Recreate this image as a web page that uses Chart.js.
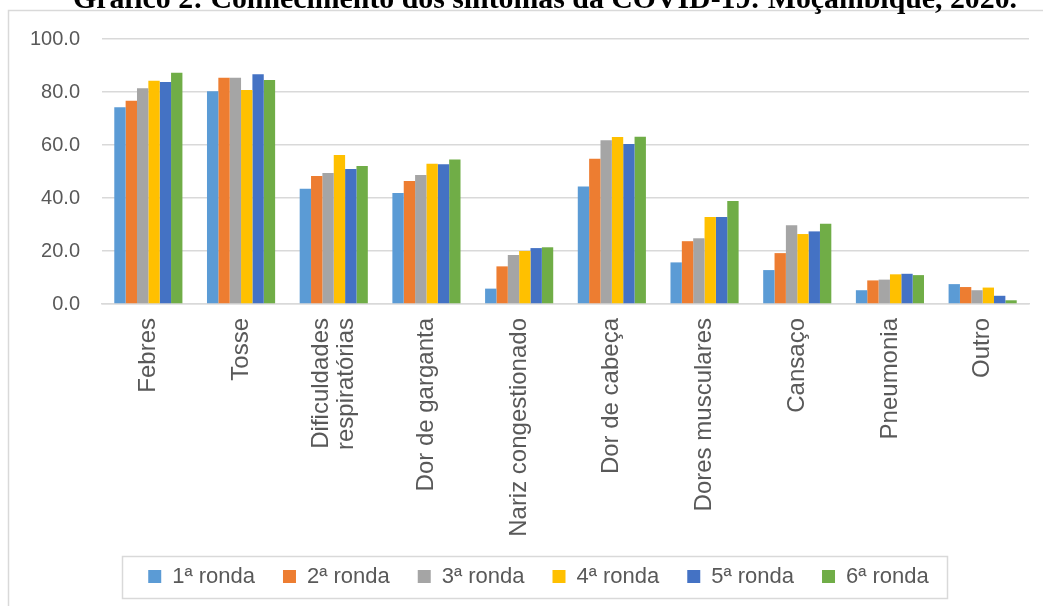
<!DOCTYPE html>
<html>
<head>
<meta charset="utf-8">
<script src="https://cdn.jsdelivr.net/npm/chart.js@4.4.0/dist/chart.umd.min.js"></script>
<style>
  body { margin: 0; background: #fff; }
  #wrap { position: absolute; left: 0; top: 0; width: 1043px; height: 606px; }
</style>
</head>
<body>
<div id="wrap"><canvas id="grafico"></canvas></div>
<script>
// categorias e valores (%)
const sintomas = [
    "Febres", "Tosse", ["Dificuldades", "respiratórias"], "Dor de garganta",
    "Nariz congestionado", "Dor de cabeça", "Dores musculares", "Cansaço",
    "Pneumonia", "Outro"
];
const ronda1 = [74.2, 80.3, 43.5, 41.9, 5.8, 44.3, 15.7, 12.8, 5.2, 7.5];
const ronda2 = [76.7, 85.4, 48.3, 46.4, 14.2, 54.8, 23.7, 19.2, 8.9, 6.4];
const ronda3 = [81.4, 85.4, 49.4, 48.7, 18.5, 61.8, 24.8, 29.7, 9.2, 5.2];
const ronda4 = [84.2, 80.8, 56.2, 52.9, 20.0, 63.0, 32.8, 26.4, 11.2, 6.2];
const ronda5 = [83.8, 86.7, 50.9, 52.7, 21.1, 60.4, 32.8, 27.4, 11.4, 3.1];
const ronda6 = [87.3, 84.5, 52.1, 54.5, 21.4, 63.1, 38.9, 30.3, 10.9, 1.4];
const rondas = ["1ª ronda", "2ª ronda", "3ª ronda", "4ª ronda", "5ª ronda", "6ª ronda"];
const yTicks = [0, 20, 40, 60, 80, 100];

const titulo = "Gráfico 2: Conhecimento dos sintomas da COVID-19: Moçambique, 2020.";
const cores = ["#5B9BD5", "#ED7D31", "#A5A5A5", "#FFC000", "#4472C4", "#70AD47"];
const series = [ronda1, ronda2, ronda3, ronda4, ronda5, ronda6];
const fonte = "'Liberation Sans', Arial, sans-serif";

// moldura, titulo cortado, caixa da legenda e ajustes de posição
const moldura = {
    id: "moldura",
    afterLayout(chart) {
        // legenda um pouco à direita, como no original
        chart.legend.left += 14;
        chart.legend.right += 14;
    },
    beforeDraw(chart) {
        // rótulo de duas linhas centrado na categoria
        const items = chart.scales.x.getLabelItems();
        const it = items[2];
        if (it && !it._ajustado) {
            it.options.translation[0] -= 12.5;
            it._ajustado = true;
        }
        const c = chart.ctx;
        c.save();
        c.fillStyle = "#fff";
        c.fillRect(0, 0, chart.width, chart.height);
        c.strokeStyle = "#d9d9d9";
        c.lineWidth = 1.5;
        c.beginPath();
        c.moveTo(8.5, chart.height);
        c.lineTo(8.5, 10.5);
        c.lineTo(chart.width, 10.5);
        c.stroke();
        // titulo (parte de cima fica fora da imagem)
        c.font = "bold 30px 'Liberation Serif', 'Times New Roman', serif";
        c.fillStyle = "#000";
        c.textBaseline = "alphabetic";
        const w = c.measureText(titulo).width;
        c.translate(73, 8);
        c.scale(944 / w, 1);
        c.fillText(titulo, 0, 0);
        c.restore();
    },
    afterDraw(chart) {
        const lg = chart.legend;
        if (!lg || !lg.legendHitBoxes.length) return;
        const hb = lg.legendHitBoxes;
        const cx = (lg.left + lg.right) / 2 - 5;
        const cy = hb[0].top + hb[0].height / 2;
        const c = chart.ctx;
        c.save();
        c.strokeStyle = "#d9d9d9";
        c.lineWidth = 1.5;
        c.strokeRect(Math.round(cx - 412) + 0.5, Math.round(cy - 21) + 0.5, 825, 42);
        c.restore();
    }
};

new Chart(document.getElementById("grafico"), {
    type: "bar",
    data: {
        labels: sintomas,
        datasets: series.map((d, i) => ({
            label: rondas[i],
            data: d,
            backgroundColor: cores[i],
            borderWidth: 0,
        })),
    },
    options: {
        responsive: true,
        maintainAspectRatio: false,
        animation: false,
        categoryPercentage: 0.735,
        barPercentage: 1,
        layout: {
            padding: { left: 20, right: 14, top: 39, bottom: 8.5 },
        },
        plugins: {
            title: { display: false },
            tooltip: { enabled: false },
            legend: {
                position: "bottom",
                labels: {
                    boxWidth: 13,
                    boxHeight: 13,
                    padding: 28,
                    color: "#595959",
                    font: { family: fonte, size: 22 },
                },
            },
        },
        scales: {
            x: {
                grid: { display: false, drawTicks: false },
                border: { color: "#d9d9d9", width: 1.5 },
                ticks: {
                    autoSkip: false,
                    minRotation: 90,
                    maxRotation: 90,
                    padding: 14,
                    color: "#595959",
                    font: { family: fonte, size: 24, lineHeight: 1.05 },
                },
                afterFit(axis) { axis.height = 233.5; },
            },
            y: {
                min: 0,
                max: 100,
                grid: { color: "#d9d9d9", lineWidth: 1.5, drawTicks: false },
                border: { display: false },
                afterBuildTicks(axis) { axis.ticks = yTicks.map(v => ({ value: v })); },
                ticks: {
                    padding: 22,
                    color: "#595959",
                    font: { family: fonte, size: 20 },
                    callback: (v) => v.toFixed(1),
                },
                afterFit(axis) { axis.width = 82; },
            },
        },
    },
    plugins: [moldura],
});
</script>
</body>
</html>
